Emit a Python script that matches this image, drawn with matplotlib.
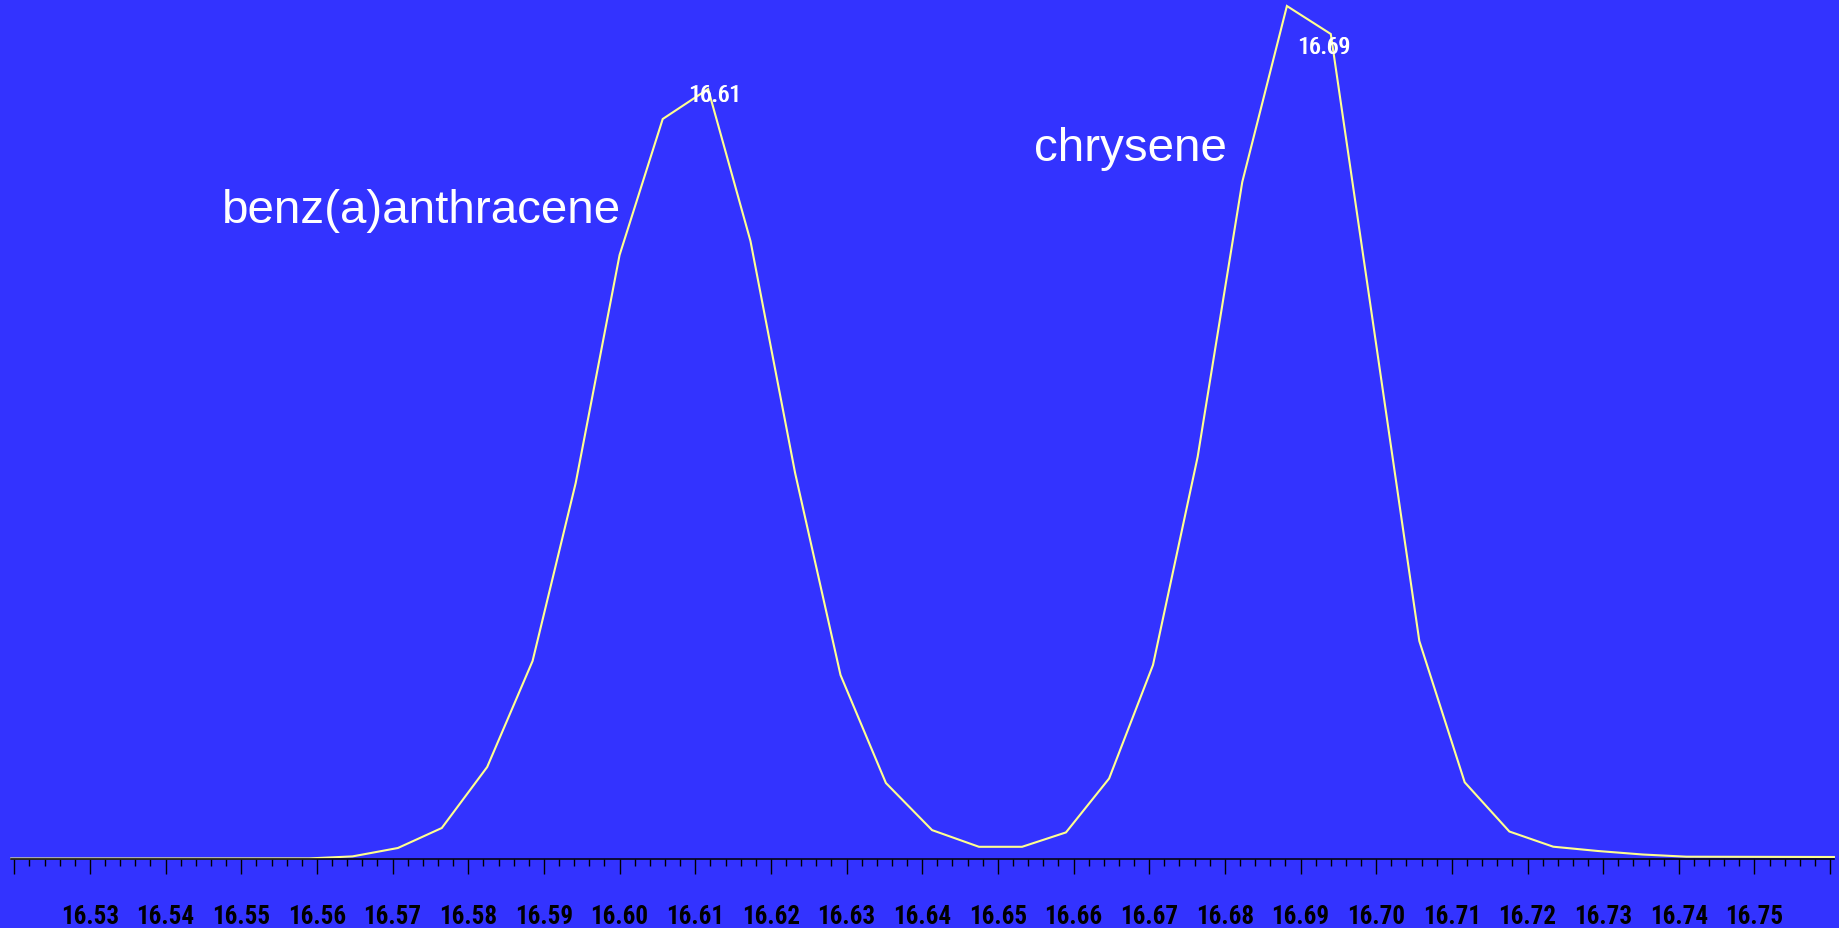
import numpy as np
import matplotlib
matplotlib.use("Agg")
import matplotlib.pyplot as plt
import matplotlib.transforms as mtransforms

# retention time (min) and abundance (arbitrary units)
times = [16.5196, 16.5590, 16.5647, 16.5707, 16.5765, 16.5825, 16.5885, 16.5942,
         16.6000, 16.6057, 16.6117, 16.6173, 16.6232, 16.6292, 16.6352, 16.6413,
         16.6475, 16.6532, 16.6590, 16.6647, 16.6705, 16.6764, 16.6823, 16.6882,
         16.6940, 16.6997, 16.7057, 16.7117, 16.7176, 16.7234, 16.7293, 16.7352,
         16.7410, 16.7605]
abundance = [0.5, 0.6, 2.6, 11.0, 31.0, 92.0, 198.0, 376.0,
             604.0, 740.0, 770.0, 618.0, 386.0, 184.0, 76.0, 28.9,
             12.2, 12.2, 26.6, 80.5, 194.0, 402.0, 677.0, 853.0,
             825.0, 530.0, 218.0, 76.7, 27.5, 12.3, 8.0, 4.5,
             2.3, 2.0]

tick_labels = ["16.53", "16.54", "16.55", "16.56", "16.57", "16.58", "16.59",
               "16.60", "16.61", "16.62", "16.63", "16.64", "16.65", "16.66",
               "16.67", "16.68", "16.69", "16.70", "16.71", "16.72", "16.73",
               "16.74", "16.75"]

compounds = ["benz(a)anthracene", "chrysene"]
compound_pos = [(16.5474, 637), (16.6548, 699)]
peak_labels = ["16.61", "16.69"]
peak_pos = [(16.6126, 764), (16.6931, 813)]

bg = "#3333ff"
trace = "#ffff90"
narrow = ["Roboto Condensed", "DejaVu Sans"]

fig = plt.figure(figsize=(18.39, 9.29), dpi=100)
fig.patch.set_facecolor(bg)
ax = fig.add_axes([0, 0, 1, 1])
ax.set_facecolor(bg)

ax.plot(times, abundance, color=trace, lw=1.5, solid_joinstyle="miter")

ax.set_xlim(16.51811, 16.76117)
ax.set_ylim(-69, 860)

for s in ["top", "left", "right"]:
    ax.spines[s].set_visible(False)
ax.spines["bottom"].set_position(("data", 0))
ax.spines["bottom"].set_bounds(times[0], times[-1])
ax.spines["bottom"].set_color("#000000")
ax.spines["bottom"].set_linewidth(1.1)
ax.yaxis.set_visible(False)

major = [16.52] + [float(t) for t in tick_labels] + [16.76]
minor = [m for m in np.round(np.arange(16.52, 16.7601, 0.002), 3)
         if not np.isclose(m, major).any()]
ax.set_xticks(major)
ax.set_xticklabels([""] + tick_labels + [""])
ax.set_xticks(minor, minor=True)
ax.tick_params(axis="x", which="major", direction="out", length=10.8,
               width=1.0, color="#000000", pad=21.5, labelsize=18,
               labelcolor="#000000")
ax.tick_params(axis="x", which="minor", direction="out", length=5,
               width=1.0, color="#000000")
for lab in ax.get_xticklabels():
    lab.set_family(narrow)
    lab.set_fontweight("bold")

for name, (x, y) in zip(compounds, compound_pos):
    ax.text(x, y, name, color="white", fontsize=34.2, family="Liberation Sans",
            ha="left", va="baseline")

# peak labels are printed twice, slightly offset, as in the original
for lab, (x, y) in zip(peak_labels, peak_pos):
    for dx in (0, 1):
        off = mtransforms.offset_copy(ax.transData, fig=fig, x=dx, y=0,
                                      units="dots")
        ax.text(x, y, lab, color="white", fontsize=17, family=narrow,
                ha="center", va="center", transform=off)

fig.savefig("out.png", dpi=100, facecolor=bg)
